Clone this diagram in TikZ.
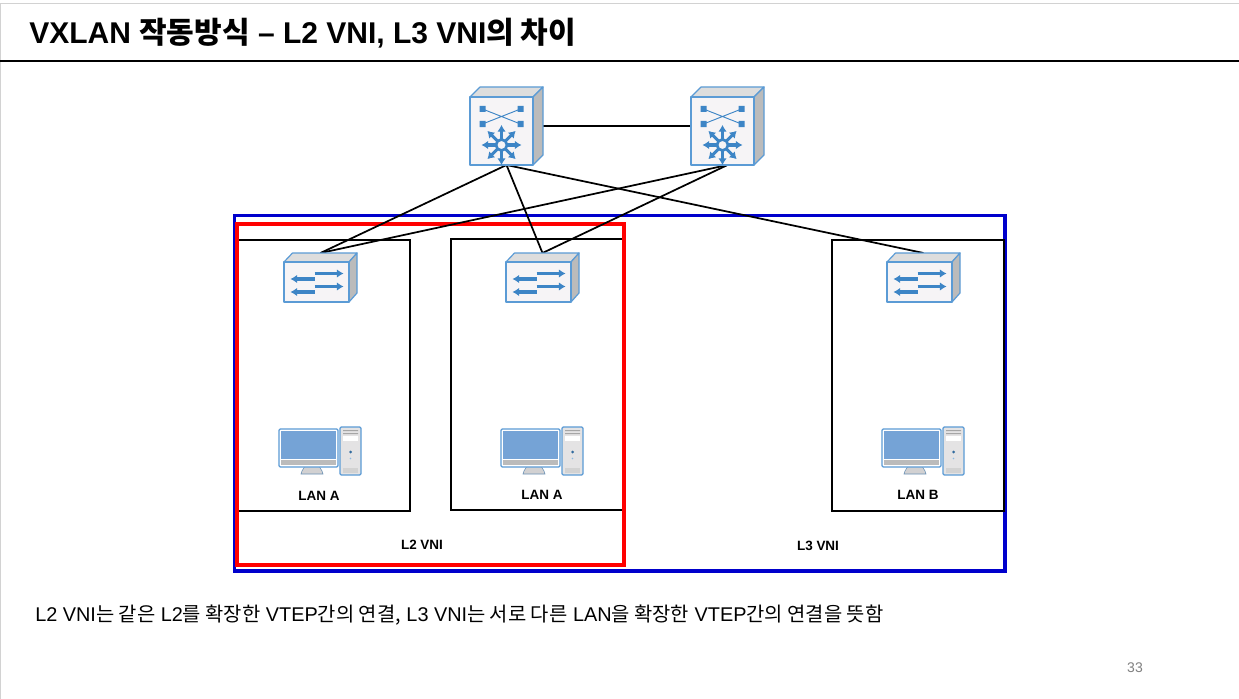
\documentclass[tikz,border=0pt]{standalone}
\usepackage{fontspec}
\setmainfont{Liberation Sans}
\newfontfamily\kr{Noto Sans CJK KR}
\definecolor{icoblue}{HTML}{3D85C6}
\definecolor{icoedge}{HTML}{5B9BD5}
\definecolor{icoface}{HTML}{F6F4F6}
\definecolor{icotop}{HTML}{DDDDDD}
\definecolor{icoside}{HTML}{BBBBBB}
\definecolor{screenblue}{HTML}{75A3D6}
\definecolor{vblue}{HTML}{0000CC}
\tikzset{
 x=0.75pt,y=-0.75pt,
 link/.style={draw=black,line width=1.3pt},
 lanbox/.style={draw=black,line width=1.3pt},
 devbox/.style={rectangle,inner sep=0pt,outer sep=0pt},
 spinedev/.style={devbox,minimum width=54.75pt,minimum height=58.5pt},
 leafdev/.style={devbox,minimum width=54.75pt,minimum height=36.75pt},
 lbl/.style={font=\bfseries\fontsize{10.1}{12}\selectfont,inner sep=0pt},
 face/.style={draw=icoedge,line width=0.9pt,line join=round},
 arr/.style={draw=icoblue,line width=2.3pt,-{Latex[length=5pt,width=6.5pt]}},
 spinepic/.pic={
  \path[face,fill=icotop] (-36.5,-29)--(-26.5,-39)--(36.5,-39)--(26.5,-29)--cycle;
  \path[face,fill=icoside] (26.5,-29)--(36.5,-39)--(36.5,29)--(26.5,39)--cycle;
  \path[face,fill=icoface] (-36.5,-29) rectangle (26.5,39);
  \draw[icoblue,line width=0.7pt] (-24,-17)--(14,-2) (-24,-2)--(14,-17);
  \fill[icoblue] (-27,-20) rectangle (-21,-14) (11,-20) rectangle (17,-14)
    (-27,-5) rectangle (-21,1) (11,-5) rectangle (17,1);
  \foreach \a in {0,45,...,315}{
   \draw[arr] ({-5+5*cos(\a)},{19+5*sin(\a)})--({-5+20*cos(\a)},{19+20*sin(\a)});}
  \draw[icoblue,line width=2pt,fill=icoface] (-5,19) circle (5.5);
 },
 leafpic/.pic={
  \path[face,fill=icotop] (-36.5,-15.5)--(-28,-24.5)--(36.5,-24.5)--(28.5,-15.5)--cycle;
  \path[face,fill=icoside] (28.5,-15.5)--(36.5,-24.5)--(36.5,15.5)--(28.5,24.5)--cycle;
  \path[face,fill=icoface] (-36.5,-15.5) rectangle (28.5,24.5);
  \draw[arr] (-6,-4)--(23,-4);
  \draw[arr] (-6,9)--(23,9);
  \draw[arr] (-6,1.5)--(-30,1.5);
  \draw[arr] (-6,14.5)--(-30,14.5);
 },
 pcpic/.pic={
  % monitor
  \fill[icoface!70!gray,draw=icoedge!60!gray,line width=0.4pt] (-5,36)--(9,36)--(12,41)--(13,44)--(-9,44)--(-8,41)--cycle;
  \path[fill=white,draw=icoedge,line width=0.9pt,rounded corners=1pt] (-31,-1) rectangle (28,37);
  \fill[screenblue] (-29,1) rectangle (26,29);
  \fill[icoside] (-29,30) rectangle (26,35);
  % tower
  \path[fill=icoface!85!gray,draw=icoedge,line width=0.9pt,rounded corners=1pt] (30,-3) rectangle (51,45);
  \fill[gray!70] (33,0) rectangle (48,1) (33,3) rectangle (48,4);
  \fill[white] (33,6) rectangle (48,11);
  \fill[icoblue!80!black] (40.5,22) circle (1.5);
  \fill[icoedge!70] (40.5,28.5) circle (0.8);
  \fill[gray!35] (33,38) rectangle (48,43);
 },
}
\usetikzlibrary{arrows.meta}
\begin{document}
\begin{tikzpicture}
\useasboundingbox (0,0) rectangle (1239,699);
\fill[white] (0,0) rectangle (1239,699);
% slide frame
\draw[gray!35,line width=0.75pt] (0.5,699)--(0.5,3.5)--(1239,3.5);
\draw[black,line width=1.1pt] (0,61)--(1239,61);
\node[anchor=west,inner sep=0pt,font=\bfseries\fontsize{22.5}{26}\selectfont] (title) at (29,33)
 {VXLAN {\kr 작동방식} – L2 VNI, L3 VNI{\kr 의 차이}};
% devices
\node[spinedev] (s1) at (506.5,126) {};
\node[spinedev] (s2) at (727.5,126) {};
\node[leafdev] (l1) at (320.5,277.5) {};
\node[leafdev] (l2) at (542.5,277.5) {};
\node[leafdev] (l3) at (923.5,277.5) {};
% regions
\draw[draw=vblue,line width=2.8pt] (234.5,215.5) rectangle (1005,571);
\node[devbox,minimum width=129.75pt,minimum height=203.25pt] (lan1) at (323.5,375.5) {};
\node[devbox,minimum width=129pt,minimum height=203.25pt] (lan2) at (537,374.5) {};
\node[devbox,minimum width=129pt,minimum height=203.25pt] (lan3) at (918,375.5) {};
\draw[lanbox] (lan1.south west) rectangle (lan1.north east);
\draw[lanbox] (lan2.south west) rectangle (lan2.north east);
\draw[lanbox] (lan3.south west) rectangle (lan3.north east);
\draw[draw=red,line width=3pt] (236.5,223.5) rectangle (624,565);
% links
\draw[link] (s1.east)--(s2.west);
\draw[link] (s1.south)--(l1.north);
\draw[link] (s1.south)--(l2.north);
\draw[link] (s1.south)--(l3.north);
\draw[link] (s2.south)--(l1.north);
\draw[link] (s2.south)--(l2.north);
% icons
\pic at (s1.center) {spinepic};
\pic at (s2.center) {spinepic};
\pic at (l1.center) {leafpic};
\pic at (l2.center) {leafpic};
\pic at (l3.center) {leafpic};
\pic at (310,430) {pcpic};
\pic at (532,430) {pcpic};
\pic at (913,430) {pcpic};
% labels
\node[lbl] (a1) at (319,495.5) {LAN A};
\node[lbl] (a2) at (542,494.5) {LAN A};
\node[lbl] (b) at (918,494.5) {LAN B};
\node[lbl] (v2) at (422,544.5) {L2 VNI};
\node[lbl] (v3) at (818,545.5) {L3 VNI};
\node[anchor=west,inner sep=0pt,font=\fontsize{14.9}{18}\selectfont] (body) at (35,615)
 {L2 VNI{\kr 는 같은} L2{\kr 를 확장한} VTEP{\kr 간의 연결,} L3 VNI{\kr 는 서로 다른} LAN{\kr 을 확장한} VTEP{\kr 간의 연결을 뜻함}};
\node[inner sep=0pt,text=gray,font=\fontsize{10.5}{12}\selectfont] (pg) at (1135,667.5) {33};
\end{tikzpicture}
\end{document}
